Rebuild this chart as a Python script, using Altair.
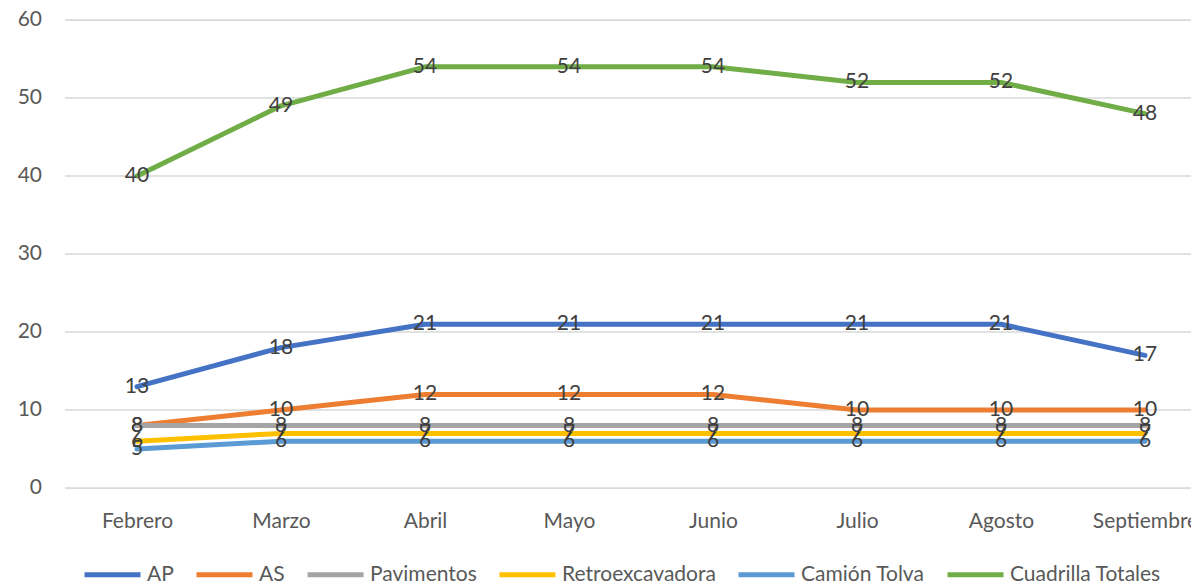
import altair as alt
import pandas as pd

months = ["Febrero", "Marzo", "Abril", "Mayo", "Junio", "Julio", "Agosto", "Septiembre"]
series_names = ["AP", "AS", "Pavimentos", "Retroexcavadora", "Camión Tolva", "Cuadrilla Totales"]
colors = ["#4472C4", "#ED7D31", "#A5A5A5", "#FFC000", "#5B9BD5", "#70AD47"]
y_ticks = [0, 10, 20, 30, 40, 50, 60]

ap = [13, 18, 21, 21, 21, 21, 21, 17]
as_ = [8, 10, 12, 12, 12, 10, 10, 10]
pavimentos = [8, 8, 8, 8, 8, 8, 8, 8]
retro = [6, 7, 7, 7, 7, 7, 7, 7]
camion = [5, 6, 6, 6, 6, 6, 6, 6]
cuadrilla = [40, 49, 54, 54, 54, 52, 52, 48]

values = [ap, as_, pavimentos, retro, camion, cuadrilla]
rows = []
for i, (name, vals) in enumerate(zip(series_names, values)):
    for m, v in zip(months, vals):
        rows.append({"Mes": m, "Serie": name, "Valor": v, "orden": i})
df = pd.DataFrame(rows)
grid_df = pd.DataFrame({"Valor": y_ticks})

FONT = "Lato"
FS = 21

x = alt.X("Mes:N", sort=months, title=None,
          scale=alt.Scale(type="point", range=[0, 1152], padding=0.5),
          axis=alt.Axis(labelAngle=0, domain=False, ticks=False, grid=False,
                        labelFontSize=FS, labelFont=FONT, labelColor="#595959",
                        labelPadding=22))
y = alt.Y("Valor:Q", title=None,
          scale=alt.Scale(domain=[0, 60], nice=False),
          axis=None)

cover = alt.Chart(grid_df).mark_rule(color="white", strokeWidth=4).encode(
    x=alt.value(0), y=alt.value(0), y2=alt.value(468),
)

grid = alt.Chart(grid_df).mark_rule(color="#D9D9D9", strokeWidth=1.5).encode(
    y=y, x=alt.value(0), x2=alt.value(1126),
)

y_labels = alt.Chart(grid_df).mark_text(
    fontSize=FS, font=FONT, color="#595959", align="right", baseline="middle"
).encode(
    y=y, x=alt.value(-23), text=alt.Text("Valor:Q"),
)

base = alt.Chart(df)

lines = base.mark_line(strokeWidth=5, strokeCap="round", strokeJoin="round").encode(
    x=x, y=y,
    color=alt.Color("Serie:N", sort=series_names,
                    scale=alt.Scale(domain=series_names, range=colors),
                    legend=alt.Legend(title=None, orient="none", direction="horizontal",
                                      legendX=17, legendY=524,
                                      symbolType="stroke", symbolSize=3136,
                                      symbolStrokeWidth=5,
                                      labelFontSize=FS, labelFont=FONT,
                                      labelColor="#595959", labelOffset=4,
                                      labelLimit=400,
                                      columnPadding=12, padding=0)),
    order=alt.Order("orden:Q"),
)

labels = base.mark_text(fontSize=FS, font=FONT, color="#404040",
                        align="center", baseline="middle").encode(
    x=x, y=y, text=alt.Text("Valor:Q"),
    order=alt.Order("orden:Q"),
)

chart = alt.layer(cover, grid, y_labels, lines, labels).properties(
    width=1126, height=468,
    autosize=alt.AutoSizeParams(type="none"),
    padding={"left": 57, "top": 12, "right": 0, "bottom": 100},
).configure_view(stroke="transparent", strokeWidth=0, strokeOpacity=0).configure_axis(
    domain=False, ticks=False, grid=False
).configure(background="white")

chart.save("out.html", embed_options={"renderer": "svg", "actions": False})
